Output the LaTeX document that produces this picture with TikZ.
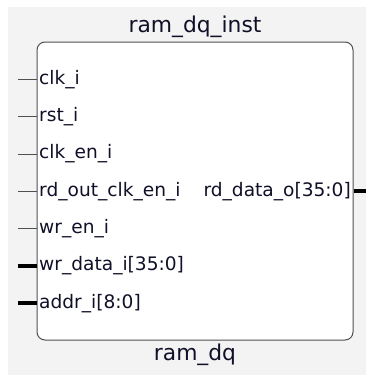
\documentclass[tikz,border=0pt]{standalone}
\usepackage{fontspec}
\setmainfont{DejaVu Sans}
\usepackage{xcolor}
\definecolor{canvas}{HTML}{F3F3F3}
\definecolor{edge}{HTML}{505050}
\definecolor{pintext}{HTML}{101028}

\tikzset{
    pin/.style={anchor=west, inner sep=2.5pt, text=pintext, font=\fontsize{18.6}{20}\selectfont},
    wire/.style={draw=edge, line width=1pt},
    bus/.style={draw=black, line width=4pt}
}

\begin{document}
\begin{tikzpicture}[x=1pt, y=-1pt]
        \useasboundingbox (0,0) rectangle (366,375);
        \fill[canvas] (8,7) rectangle (366,375);

        \node (blk) at (195, 191) [draw=edge, line width=1pt, fill=white, rectangle, rounded corners=8pt, minimum width=316pt, minimum height=298pt] {};
        \node (inst) at (195, 27) [font=\fontsize{21.8}{24}\selectfont, text=pintext] {ram\_dq\_inst};
        \node (type) at (195, 355) [font=\fontsize{21.8}{24}\selectfont, text=pintext] {ram\_dq};

        \node (clk)   at (blk.west |- 0, 79.3)  [pin] {clk\_i};
        \node (rst)   at (blk.west |- 0, 116.7) [pin] {rst\_i};
        \node (clken) at (blk.west |- 0, 154.0) [pin] {clk\_en\_i};
        \node (rdclk) at (blk.west |- 0, 191.3) [pin] {rd\_out\_clk\_en\_i};
        \node (wren)  at (blk.west |- 0, 228.7) [pin] {wr\_en\_i};
        \node (wrdat) at (blk.west |- 0, 266.0) [pin] {wr\_data\_i[35:0]};
        \node (addr)  at (blk.west |- 0, 303.3) [pin] {addr\_i[8:0]};
        \node (rddat) at (blk.east |- 0, 191.3) [pin, anchor=east] {rd\_data\_o[35:0]};

        \coordinate (clkend)   at (18, 79.3);
        \coordinate (rstend)   at (18, 116.7);
        \coordinate (clkenend) at (18, 154.0);
        \coordinate (rdclkend) at (18, 191.3);
        \coordinate (wrenend)  at (18, 228.7);
        \coordinate (wrdatend) at (18, 266.0);
        \coordinate (addrend)  at (18, 303.3);
        \coordinate (rddatend) at (366, 191.3);

        \draw[wire] (clkend) -- (clk.west);
        \draw[wire] (rstend) -- (rst.west);
        \draw[wire] (clkenend) -- (clken.west);
        \draw[wire] (rdclkend) -- (rdclk.west);
        \draw[wire] (wrenend) -- (wren.west);
        \draw[bus] (wrdatend) -- (wrdat.west);
        \draw[bus] (addrend) -- (addr.west);
        \draw[bus] (rddat.east) -- (rddatend);
    \end{tikzpicture}
\end{document}
